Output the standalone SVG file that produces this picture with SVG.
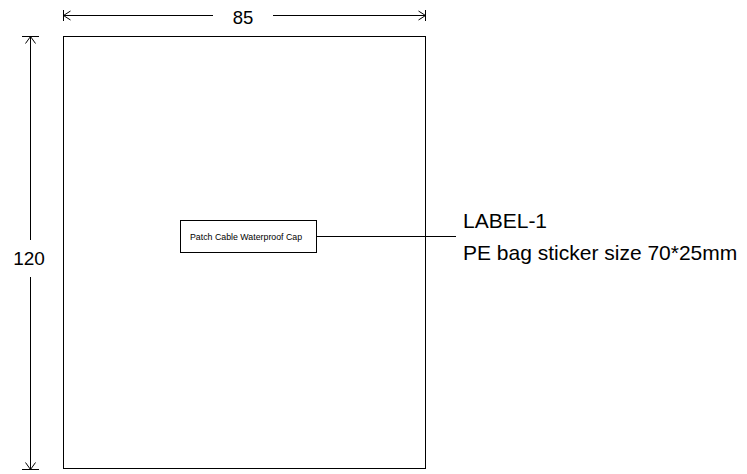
<svg xmlns="http://www.w3.org/2000/svg" width="747" height="474" viewBox="0 0 747 474">
<style>
.ln{stroke:#000;stroke-width:1;fill:none}
.t{font-family:"Liberation Sans",Arial,sans-serif;fill:#000}
</style>
<rect width="747" height="474" fill="#fff"/>
<g id="frame"><rect class="ln" x="63.5" y="36.5" width="362" height="432"/></g>
<g id="label-box">
<rect class="ln" x="180.5" y="220.5" width="136" height="32"/>
<text class="t" x="190" y="240" font-size="8.8">Patch Cable Waterproof Cap</text>
</g>
<g id="callout">
<text class="t" x="463" y="228" font-size="21">LABEL-1</text>
<text class="t" x="463" y="260" font-size="21">PE bag sticker size 70*25mm</text>
</g>
<g id="dimensions">
<text class="t" x="243" y="24" font-size="18.5" text-anchor="middle">85</text>
<text class="t" x="29" y="265" font-size="19" text-anchor="middle">120</text>
</g>
<g id="connectors">
<line class="ln" x1="316" y1="236.5" x2="456" y2="236.5"/>
<path class="ln" d="M63.5 15.5H213M273 15.5H425.5M63.5 10V21M425.5 10V21M63.5 15.5l7 -4.5M63.5 15.5l7 4.5M425.5 15.5l-7 -4.5M425.5 15.5l-7 4.5"/>
<path class="ln" d="M30.5 36.5V240M30.5 277V469M22 36.5H39M22 469.5H39M30.5 36.5l-5 7M30.5 36.5l5 7M30.5 469.5l-5 -7M30.5 469.5l5 -7"/>
</g>
</svg>
